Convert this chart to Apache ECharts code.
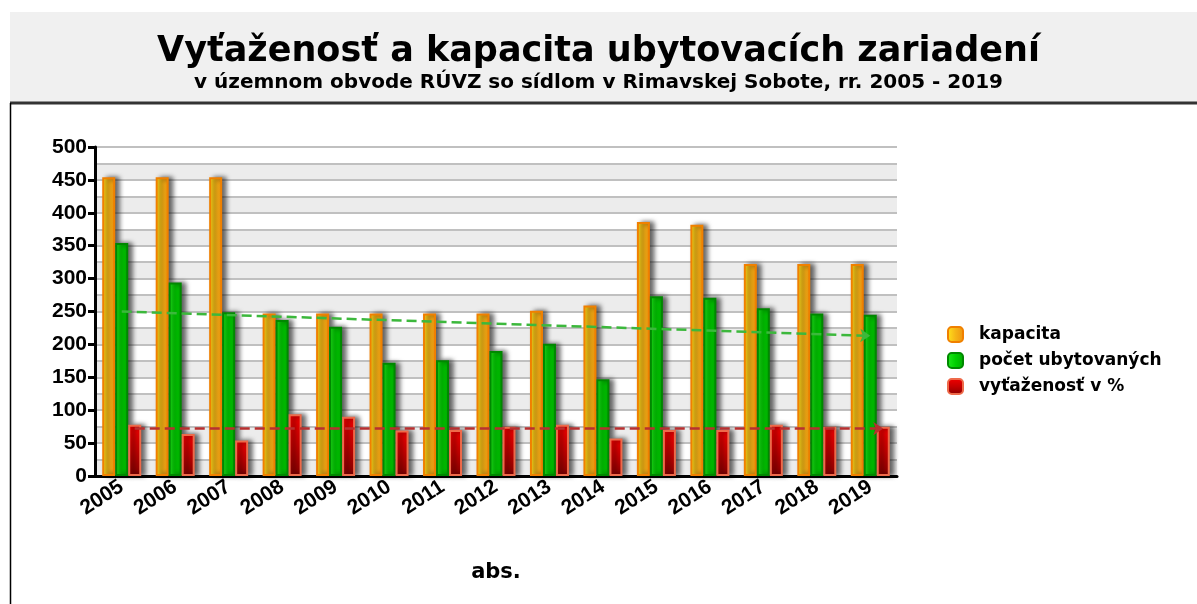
<!DOCTYPE html>
<html>
  <head>
    <meta charset="utf-8" />
    <script src="https://cdn.jsdelivr.net/npm/echarts@6/dist/echarts.min.js"></script>
  </head>
  <body style="margin:0">
    <div id="main" style="width: 1197px;height:604px;"></div>
    <script type="text/javascript">
      var years = ['2005', '2006', '2007', '2008', '2009', '2010', '2011', '2012', '2013', '2014', '2015', '2016', '2017', '2018', '2019'];
      var kapacita = [454, 454, 454, 247, 247, 247, 247, 247, 251, 259, 386, 382, 322, 322, 322];
      var pocet = [354, 294, 249, 237, 227, 172, 176, 190, 201, 147, 273, 271, 255, 247, 245];
      var vytazenost = [78, 64, 54, 94, 90, 69, 70, 75, 78, 57, 70, 70, 78, 75, 75];
      // koncove body trendov (zaciatok 2005, koniec 2019)
      var trendPocet = [250, 213];
      var trendVyt = [72, 72];
      var yTicks = [0, 50, 100, 150, 200, 250, 300, 350, 400, 450, 500];

      var font = 'Liberation Sans';
      var wide = 'DejaVu Sans';
      var myChart = echarts.init(document.getElementById('main'));

      function grad(a, b, c, vertical) {
        return new echarts.graphic.LinearGradient(0, 0, vertical ? 0 : 1, vertical ? 1 : 0, [
          { offset: 0, color: a }, { offset: 0.5, color: b }, { offset: 1, color: c }
        ]);
      }
      var shadow = { shadowBlur: 5, shadowColor: 'rgba(0,0,0,0.6)', shadowOffsetX: 4, shadowOffsetY: 0 };

      var option = {
        animation: false,
        backgroundColor: '#fff',
        graphic: [
          { type: 'rect', z: -1, shape: { x: 10, y: 12, width: 1187, height: 90 }, style: { fill: '#f0f0f0' } },
          { type: 'line', z: -1, shape: { x1: 10, y1: 103, x2: 1197, y2: 103 }, style: { stroke: '#333', lineWidth: 3 } },
          { type: 'line', z: -1, shape: { x1: 10.5, y1: 103, x2: 10.5, y2: 604 }, style: { stroke: '#000', lineWidth: 1.5 } }
        ],
        title: {
          left: 'center',
          top: 29,
          itemGap: 4,
          text: 'Vyťaženosť a kapacita ubytovacích zariadení',
          subtext: 'v územnom obvode RÚVZ so sídlom v Rimavskej Sobote, rr. 2005 - 2019',
          textStyle: { fontFamily: wide, fontWeight: 'bold', fontSize: 35, color: '#000' },
          subtextStyle: { fontFamily: wide, fontWeight: 'bold', fontSize: 20, color: '#000' }
        },
        legend: {
          orient: 'vertical',
          left: 942,
          top: 321,
          itemWidth: 15,
          itemHeight: 15,
          itemGap: 9,
          textStyle: { fontFamily: wide, fontWeight: 'bold', fontSize: 17, color: '#000', padding: [0, 0, 0, 11] },
          data: ['kapacita', 'počet ubytovaných', 'vyťaženosť v %']
        },
        grid: { left: 95, right: 300, top: 147, bottom: 128 },
        xAxis: {
          type: 'category',
          data: years,
          name: 'abs.',
          nameLocation: 'middle',
          nameGap: 86,
          nameTextStyle: { fontFamily: wide, fontWeight: 'bold', fontSize: 21, color: '#000' },
          axisLine: { lineStyle: { color: '#000', width: 3 } },
          axisTick: { length: 8, lineStyle: { color: '#000', width: 3 } },
          axisLabel: { rotate: 33, margin: 9, fontFamily: font, fontWeight: 'bold', fontSize: 21, color: '#000' }
        },
        yAxis: [
          {
            type: 'value',
            min: 0,
            max: 500,
            interval: 50,
            axisLine: { show: true, lineStyle: { color: '#000', width: 3 } },
            axisTick: { show: true, length: 7, lineStyle: { color: '#000', width: 3 } },
            axisLabel: {
              margin: 8, fontFamily: font, fontWeight: 'bold', fontSize: 21, color: '#000',
              formatter: function (v) { return yTicks.indexOf(v) >= 0 ? v : ''; }
            },
            splitLine: { show: false }
          },
          {
            type: 'value',
            min: 0,
            max: 500,
            interval: 25,
            axisLine: { show: false },
            axisTick: { show: false },
            axisLabel: { show: false },
            splitLine: { lineStyle: { color: '#c0c0c0', width: 2 } },
            splitArea: { show: true, areaStyle: { color: ['#ececec', '#ffffff'] } }
          }
        ],
        series: [
          {
            name: 'kapacita',
            type: 'bar',
            barWidth: 13,
            barGap: '0%',
            data: kapacita,
            itemStyle: Object.assign({
              color: grad('#ffe41c', '#f6b516', '#ee9210'),
              borderColor: '#f08000', borderWidth: 2
            }, shadow)
          },
          {
            name: 'počet ubytovaných',
            type: 'bar',
            barWidth: 13,
            barGap: '0%',
            data: pocet,
            itemStyle: Object.assign({
              color: grad('#22ea1e', '#00d000', '#00aa00'),
              borderColor: '#008800', borderWidth: 2
            }, shadow),
            markLine: {
              silent: true,
              symbol: ['none', 'arrow'],
              symbolSize: 10,
              label: { show: false },
              lineStyle: { color: '#3cb83c', type: 'dashed', width: 2.5 },
              data: [[{ coord: [years[0], trendPocet[0]] }, { coord: [years[years.length - 1], trendPocet[1]] }]]
            }
          },
          {
            name: 'vyťaženosť v %',
            type: 'bar',
            barWidth: 13,
            barGap: '0%',
            data: vytazenost,
            itemStyle: Object.assign({
              color: grad('#f40000', '#c40000', '#880000', true),
              borderColor: '#ee6a4a', borderWidth: 2
            }, shadow),
            markLine: {
              silent: true,
              symbol: ['none', 'arrow'],
              symbolSize: 10,
              label: { show: false },
              lineStyle: { color: '#b83030', type: 'dashed', width: 2.5 },
              data: [[{ coord: [years[0], trendVyt[0]] }, { coord: [years[years.length - 1], trendVyt[1]] }]]
            }
          }
        ]
      };
      myChart.setOption(option);
    </script>
  </body>
</html>
